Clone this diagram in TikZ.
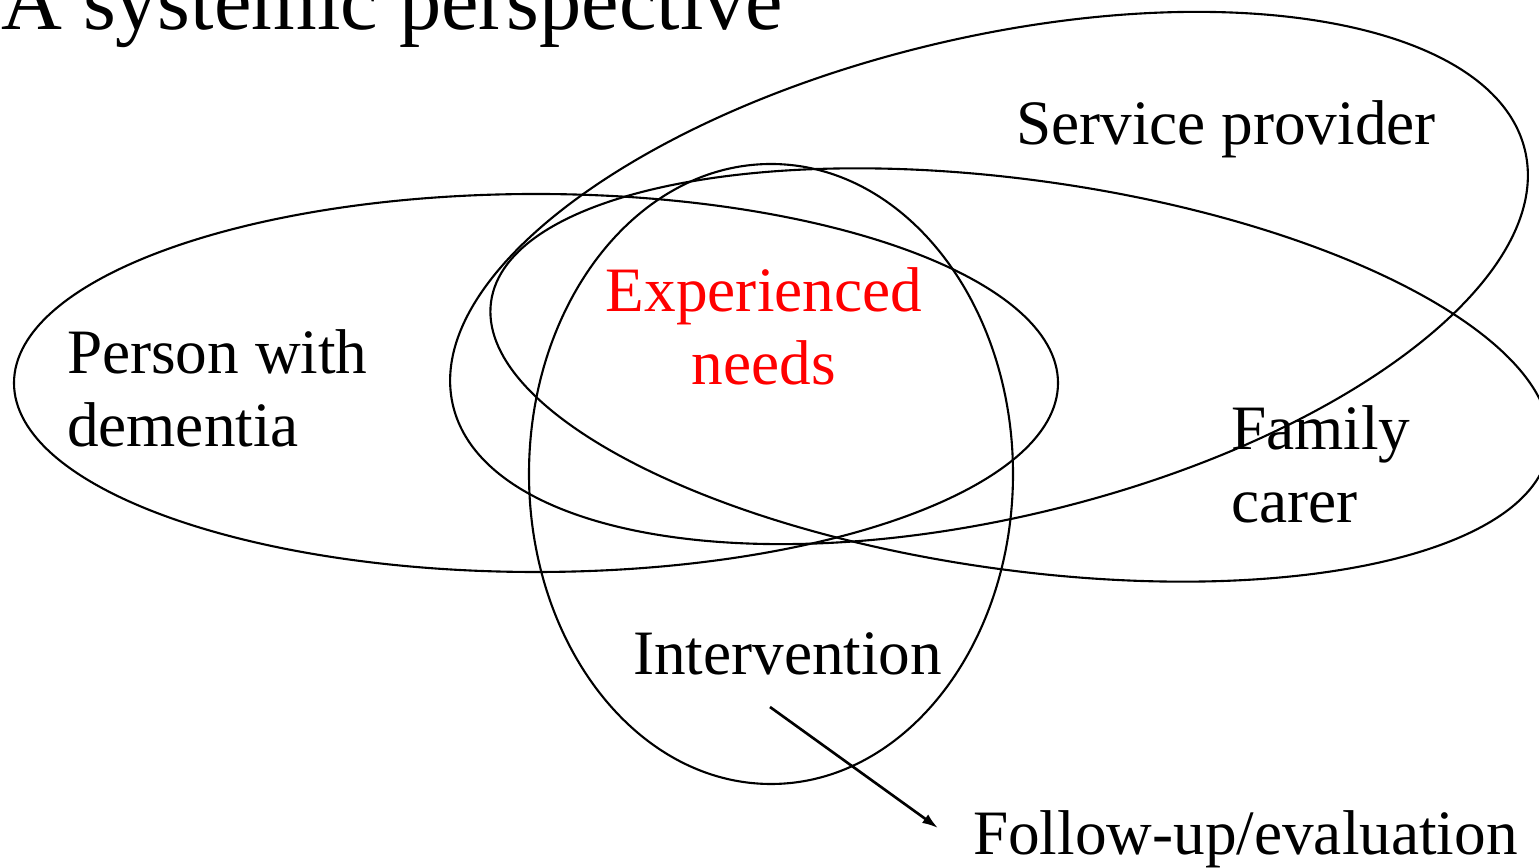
\documentclass[tikz,border=0pt]{standalone}
\usepackage{fontspec}
\setmainfont{Liberation Serif}
\usepackage{tikz}
\usetikzlibrary{arrows.meta}

\begin{document}
\begin{tikzpicture}[x=0.02cm,y=0.02cm,line width=1.2pt,
    lbl/.style={font=\fontsize{36}{42}\selectfont,inner sep=0pt,anchor=base west,align=left}]
          \useasboundingbox (0,0) rectangle (1539,868);
          \node[lbl,font=\fontsize{48}{56}\selectfont] (title) at (0,838) {A systemic perspective};
          \draw (536,485) ellipse [x radius=522, y radius=189];
          \draw[rotate around={-7.9:(1020,493)}] (1020,493) ellipse [x radius=534, y radius=195];
          \draw[rotate around={13.4:(989,590)}] (989,590) ellipse [x radius=551, y radius=240];
          \draw (771,394) ellipse [x radius=242, y radius=310];
          \node[lbl] (service) at (1015,723) {Service provider};
          \node[lbl] (person) at (66,421) {Person with\\dementia};
          \node[lbl,red,align=center,anchor=base] (needs) at (764,483) {Experienced\\needs};
          \node[lbl] (carer) at (1230,345) {Family\\carer};
          \node[lbl] (interv) at (632,193) {Intervention};
          \node[lbl] (follow) at (972,13) {Follow-up/evaluation};
          \draw[line width=1.5pt,-{Latex[length=9pt,width=6pt]}] ([shift={(138,-32)}]interv.base west) -- ([shift={(-34,27)}]follow.base west);
        \end{tikzpicture}
\end{document}
